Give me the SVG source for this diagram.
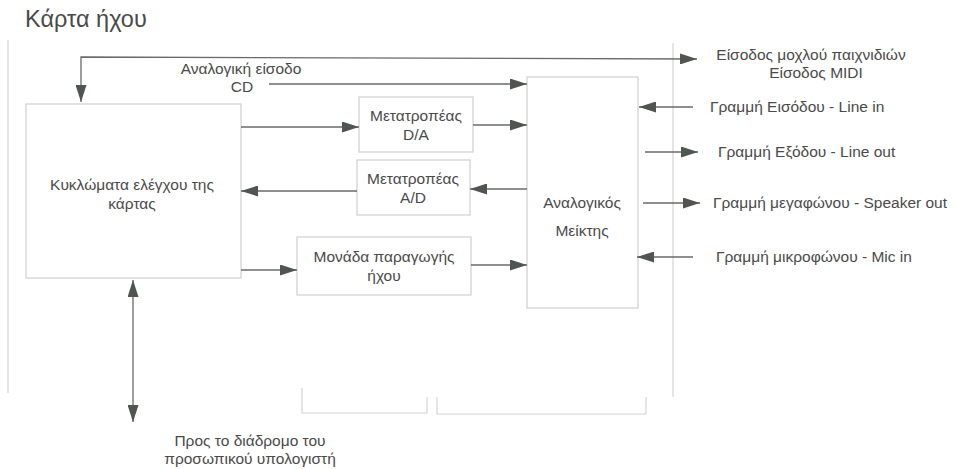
<svg xmlns="http://www.w3.org/2000/svg" width="958" height="469" viewBox="0 0 958 469">
<defs>
<marker id="ah" viewBox="0 0 17 11" refX="17" refY="5.5" markerWidth="17" markerHeight="11" markerUnits="userSpaceOnUse" orient="auto-start-reverse">
<path d="M0,0 L17,5.5 L0,11 z" fill="#4f5650"/>
</marker>
</defs>
<style>
text{font-family:"Liberation Sans",Arial,sans-serif;font-size:15.5px;fill:#4a4a4a}
.c{text-anchor:middle}
.box{fill:#fff;stroke:#cfcfcf;stroke-width:1.2}
.frame{fill:none;stroke:#d4d4d4;stroke-width:1.2}
.ln{fill:none;stroke:#6a6a6a;stroke-width:1.3}
.arr{marker-end:url(#ah)}
</style>
<rect width="958" height="469" fill="#fff"/>
<text x="25" y="27" style="font-size:23.5px">Κάρτα ήχου</text>
<g id="frame">
<path class="frame" d="M8,40 L8,393"/>
<path class="frame" d="M673,43 L673,397"/>
<path class="frame" d="M302,388 L302,413 L427,413 L427,397"/>
<path class="frame" d="M437,397 L437,414 L646,414 L646,397"/>
</g>
<g id="control">
<rect class="box" x="26" y="104" width="215" height="174"/>
<text class="c" x="132" y="190">Κυκλώματα ελέγχου της</text>
<text class="c" x="132" y="209">κάρτας</text>
</g>
<g id="da">
<rect class="box" x="359" y="97" width="114" height="55"/>
<text class="c" x="416" y="121">Μετατροπέας</text>
<text class="c" x="416" y="140">D/A</text>
</g>
<g id="ad">
<rect class="box" x="357" y="160" width="113" height="55"/>
<text class="c" x="413" y="184">Μετατροπέας</text>
<text class="c" x="413" y="203">A/D</text>
</g>
<g id="sound">
<rect class="box" x="297" y="237" width="174" height="58"/>
<text class="c" x="384" y="262">Μονάδα παραγωγής</text>
<text class="c" x="384" y="281">ήχου</text>
</g>
<g id="mixer">
<rect class="box" x="527" y="77" width="111" height="231"/>
<text class="c" x="582" y="208">Αναλογικός</text>
<text class="c" x="582" y="236">Μείκτης</text>
</g>
<g id="labels">
<text class="c" x="241" y="74">Αναλογική είσοδο</text>
<text class="c" x="242" y="92">CD</text>
<text class="c" x="811" y="60">Είσοδος μοχλού παιχνιδιών</text>
<text class="c" x="816" y="78">Είσοδος MIDI</text>
<text x="710" y="112">Γραμμή Εισόδου - Line in</text>
<text x="718" y="157">Γραμμή Εξόδου - Line out</text>
<text x="713" y="208">Γραμμή μεγαφώνου - Speaker out</text>
<text x="716" y="262">Γραμμή μικροφώνου - Mic in</text>
<text class="c" x="250" y="446">Προς το διάδρομο του</text>
<text class="c" x="250" y="464">προσωπικού υπολογιστή</text>
</g>
<g id="connectors">
<path class="ln arr" d="M81,102 L81,57 L697,59" style="marker-start:url(#ah)"/>
<path class="ln arr" d="M269,84 L527,84"/>
<path class="ln arr" d="M241,127 L359,127"/>
<path class="ln arr" d="M473,125 L527,125"/>
<path class="ln arr" d="M527,189 L470,189"/>
<path class="ln arr" d="M357,191 L241,191"/>
<path class="ln arr" d="M241,270 L297,270"/>
<path class="ln arr" d="M471,265 L527,265"/>
<path class="ln arr" d="M693,107 L639,107"/>
<path class="ln arr" d="M645,152 L698,152"/>
<path class="ln arr" d="M643,203 L700,203"/>
<path class="ln arr" d="M693,257 L637,257"/>
<path class="ln arr" d="M133,280 L133,422" style="marker-start:url(#ah)"/>
</g>
</svg>
